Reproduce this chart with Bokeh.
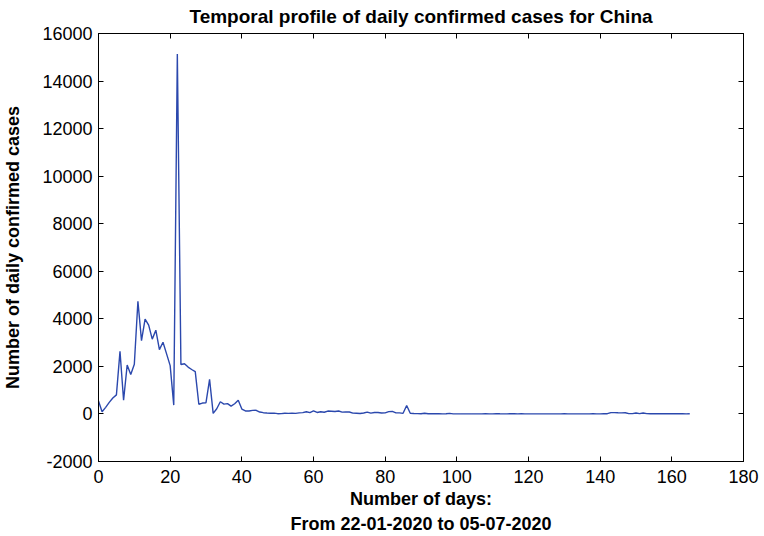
from bokeh.plotting import figure
from bokeh.models import LinearAxis, FixedTicker, Range1d, Title
from bokeh.embed import file_html
from bokeh.resources import INLINE

# Daily confirmed COVID-19 cases for China, day 0 = 22-01-2020 ... day 165 = 05-07-2020
days = list(range(166))
daily_cases = [
    548, 95, 277, 486, 669, 802, 2632, 578, 2054, 1661,
    2089, 4739, 3086, 3991, 3733, 3147, 3523, 2704, 3015, 2525,
    2032, 373, 15136, 2080, 2110, 1970, 1870, 1777, 408, 458,
    473, 1451, 21, 219, 513, 412, 434, 328, 428, 576,
    204, 125, 125, 151, 153, 80, 53, 37, 27, 34,
    11, 13, 32, 26, 30, 25, 44, 54, 94, 55,
    130, 63, 93, 70, 121, 115, 102, 123, 76, 81,
    82, 35, 31, 19, 39, 78, 32, 62, 63, 42,
    46, 99, 108, 46, 46, 26, 352, 27, 16, 12,
    11, 30, 10, 12, 6, 11, 3, 6, 22, 4,
    3, 2, 1, 2, 1, 2, 3, 1, 14, 5,
    4, 15, 7, 4, 5, 7, 8, 5, 6, 3,
    2, 4, 3, 5, 4, 2, 3, 1, 3, 2,
    6, 4, 3, 5, 2, 3, 4, 5, 6, 3,
    5, 12, 10, 57, 57, 49, 44, 50, 12, 15,
    40, 12, 40, 15, 10, 8, 9, 12, 10, 8,
    7, 9, 6, 8, 5, 10,
]

x_ticks = [0, 20, 40, 60, 80, 100, 120, 140, 160, 180]
y_ticks = [-2000, 0, 2000, 4000, 6000, 8000, 10000, 12000, 14000, 16000]
y_tick_labels = ["-2000", "0", "2000", "4000", "6000", "8000", "10000", "12000", "14000", "16000"]

title_text = "Temporal profile of daily confirmed cases for China"
x_label = "Number of days:"
x_label_2 = "From 22-01-2020 to 05-07-2020"
y_label = "Number of daily confirmed cases"

FONT = "Liberation Sans"

p = figure(
    width=764, height=536,
    output_backend="svg", toolbar_location=None,
    x_range=Range1d(x_ticks[0], x_ticks[-1]),
    y_range=Range1d(y_ticks[0], y_ticks[-1]),
    min_border_left=96, min_border_right=21,
    min_border_top=33, min_border_bottom=75,
    x_axis_label=x_label, y_axis_label=y_label,
    title=title_text,
)
p.background_fill_color = "white"
p.border_fill_color = "white"
p.outline_line_color = "black"
p.outline_line_width = 1
p.grid.visible = False

p.title.align = "center"
p.title.vertical_align = "top"
p.title.text_font = FONT
p.title.text_font_size = "19px"
p.title.text_font_style = "bold"
p.title.text_color = "black"
p.title.standoff = 10

def style_axis(ax):
    ax.axis_line_color = "black"
    ax.axis_line_width = 1
    ax.major_tick_line_color = "black"
    ax.major_tick_in = 5
    ax.major_tick_out = 0
    ax.minor_tick_line_color = None
    ax.major_label_text_font = FONT
    ax.major_label_text_color = "black"
    ax.major_label_text_font_size = "18px"

xa = p.xaxis[0]
xa.ticker = FixedTicker(ticks=x_ticks)
style_axis(xa)
xa.major_label_standoff = 8
xa.axis_label_text_font = FONT
xa.axis_label_text_font_size = "18px"
xa.axis_label_text_font_style = "bold"
xa.axis_label_text_color = "black"
xa.axis_label_standoff = 3

ya = p.yaxis[0]
ya.ticker = FixedTicker(ticks=y_ticks)
ya.major_label_overrides = {t: s for t, s in zip(y_ticks, y_tick_labels)}
style_axis(ya)
ya.major_label_standoff = 6
ya.axis_label_text_font = FONT
ya.axis_label_text_font_size = "18px"
ya.axis_label_text_font_style = "bold"
ya.axis_label_text_color = "black"
ya.axis_label_standoff = 16

# box axes on the top and right: ticks only, blank labels
top = LinearAxis(ticker=FixedTicker(ticks=x_ticks))
style_axis(top)
top.major_label_overrides = {t: "" for t in x_ticks}
top.major_label_text_font_size = "2px"
top.major_label_standoff = 0
p.add_layout(top, "above")
right = LinearAxis(ticker=FixedTicker(ticks=y_ticks))
style_axis(right)
right.major_label_overrides = {t: "" for t in y_ticks}
right.major_label_text_font_size = "2px"
right.major_label_standoff = 0
p.add_layout(right, "right")

# second line of the x-axis label
p.add_layout(Title(text=x_label_2, align="center", text_font=FONT,
                   text_font_size="18px", text_font_style="bold",
                   text_color="black", standoff=0), "below")

p.line(days, daily_cases, line_color="#2b48ad", line_width=1.4)

open("out.html", "w").write(file_html(p, INLINE))
